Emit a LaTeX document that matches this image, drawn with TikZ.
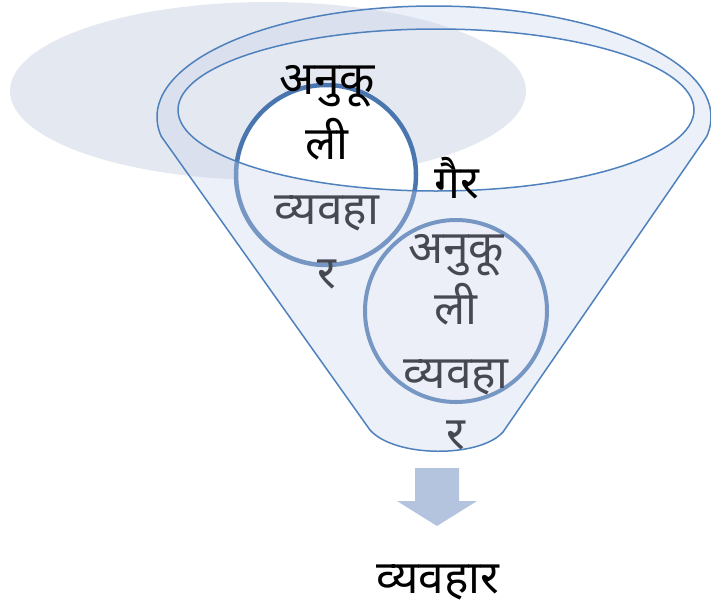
\documentclass[tikz,border=0pt]{standalone}
\usepackage{fontspec}
\newfontfamily\dev[Script=Devanagari]{Noto Sans}
\definecolor{grayell}{HTML}{E4E8F1}
\definecolor{cblue}{HTML}{4A76AF}
\definecolor{fline}{HTML}{4F81BD}
\definecolor{ffill}{HTML}{C9D3EA}
\definecolor{arrowc}{HTML}{B4C3DE}
\begin{document}
\begin{tikzpicture}[x=1pt,y=-1pt,
  txt/.style={font=\dev\fontsize{46}{52}\selectfont, anchor=base, inner sep=0pt, text=black},
  ring/.style={circle, draw=cblue, fill=white, line width=4.5pt, inner sep=0pt, minimum size=180pt},
  funnelline/.style={draw=fline, line width=1.5pt}]
\useasboundingbox (0,0) rectangle (711,605);
% background grey ellipse
\fill[grayell] (268,91) ellipse [x radius=258, y radius=89];
% circle 1 and its text
\node[ring] (c1) at (326,175) {};
\node[txt] (t1a) at (327,94) {अनुकू};
\node[txt] (t1b) at (327,159) {ली};
\node[txt] (t1c) at (327,224) {व्यवहा};
\node[txt] (t1d) at (327,288) {र};
% circle 2 and its text
\node[ring, line width=4pt, minimum size=182pt] (c2) at (456,311) {};
\node[txt] (t2a) at (456,263) {अनुकू};
\node[txt] (t2b) at (456,324) {ली};
\node[txt] (t2c) at (456,388) {व्यवहा};
\node[txt] (t2d) at (456,449) {र};
% funnel
\fill[ffill, fill opacity=0.35, even odd rule]
  (161.2,136.3) arc[start angle=170, end angle=370, x radius=277, y radius=111]
  -- (503,432) .. controls (480,458) and (395,458) .. (370,430) -- cycle
  (436,110) ellipse [x radius=258, y radius=81];
\draw[funnelline, line join=round]
  (161.2,136.3) arc[start angle=170, end angle=370, x radius=277, y radius=111]
  -- (503,432) .. controls (480,458) and (395,458) .. (370,430) -- cycle;
\draw[funnelline] (436,110) ellipse [x radius=258, y radius=81];
% label on top
\node[txt] (gair) at (457,198) {गैर};
% arrow
\fill[arrowc] (415,468) -- (459,468) -- (459,501) -- (477,501) -- (437,526) -- (397,501) -- (415,501) -- cycle;
\node[txt] (out) at (438,593) {व्यवहार};
\end{tikzpicture}
\end{document}
